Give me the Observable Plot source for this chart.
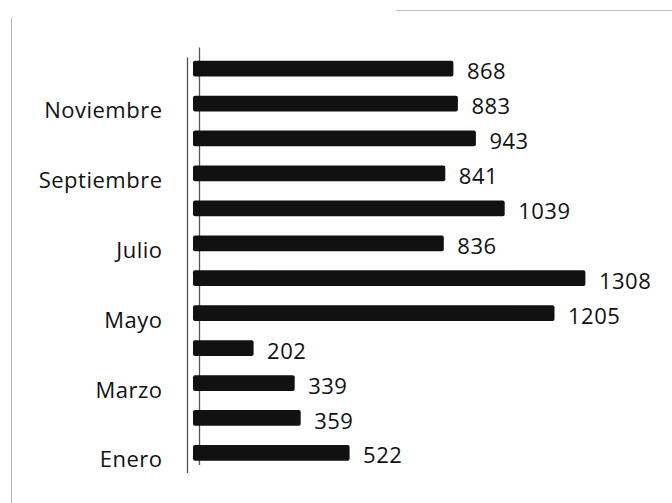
<!DOCTYPE html>
<html>
<head>
<meta charset="utf-8">
<script src="https://cdn.jsdelivr.net/npm/d3@7"></script>
<script src="https://cdn.jsdelivr.net/npm/@observablehq/plot@0.6"></script>
<style>
  html, body { margin: 0; padding: 0; background: #fff; }
  #wrap { position: relative; width: 672px; height: 503px; overflow: hidden; }
  #wrap svg { position: absolute; left: 0; top: 0; }
  .edge-left { position: absolute; left: 11px; top: 18px; width: 1px; height: 485px; background: #b5b5b5; }
  .edge-top { position: absolute; left: 396px; top: 10px; width: 276px; height: 1px; background: #c4c4c4; }
</style>
</head>
<body>
<div id="wrap">
  <div class="edge-left"></div>
  <div class="edge-top"></div>
</div>
<script>
const months = ["Enero", "Febrero", "Marzo", "Abril", "Mayo", "Junio", "Julio", "Agosto", "Septiembre", "Octubre", "Noviembre", "Diciembre"];
const values = [522, 359, 339, 202, 1205, 1308, 836, 1039, 841, 943, 883, 868];
const labelledMonths = ["Enero", "Marzo", "Mayo", "Julio", "Septiembre", "Noviembre"];

const data = months.map((m, i) => ({month: m, value: values[i]}));

const chart = Plot.plot({
  width: 672,
  height: 503,
  marginLeft: 193,
  marginRight: 59,
  marginTop: 41.5,
  marginBottom: 23,
  style: {fontFamily: "'Open Sans', sans-serif", fontSize: "22px", letterSpacing: "0.5px", color: "#111", background: "transparent"},
  x: {domain: [0, 1400], axis: null},
  y: {domain: months.slice().reverse(), padding: 0.55, round: false, axis: null, label: null},
  marks: [
    Plot.ruleX([0], {dx: -6, stroke: "#555", strokeWidth: 1.3, insetTop: 16, insetBottom: 7}),
    Plot.ruleX([0], {dx: 6, stroke: "#555", strokeWidth: 1.3, insetTop: 6, insetBottom: 15}),
    Plot.barX(data, {x: "value", y: "month", fill: "#111", rx: 2}),
    Plot.text(data, {x: "value", y: "month", text: d => String(d.value), textAnchor: "start", dx: 13, dy: 3, fontSize: 22, fill: "#111"}),
    Plot.axisY({ticks: labelledMonths, tickSize: 0, tickPadding: 31, dy: 7, fontSize: 22, fill: "#111", label: null})
  ]
});
document.getElementById("wrap").appendChild(chart);
</script>
</body>
</html>
